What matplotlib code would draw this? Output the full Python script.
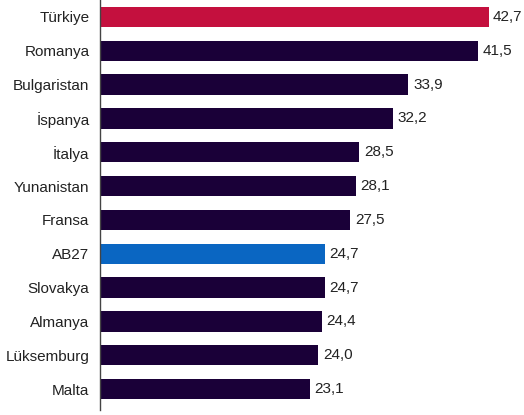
import matplotlib.pyplot as plt

countries = ['Türkiye', 'Romanya', 'Bulgaristan', 'İspanya', 'İtalya', 'Yunanistan',
             'Fransa', 'AB27', 'Slovakya', 'Almanya', 'Lüksemburg', 'Malta']
values = [42.7, 41.5, 33.9, 32.2, 28.5, 28.1, 27.5, 24.7, 24.7, 24.4, 24.0, 23.1]

navy = '#1a0038'
colors = []
for c in countries:
    if c == 'Türkiye':
        colors.append('#c4103e')
    elif c == 'AB27':
        colors.append('#0a66c2')
    else:
        colors.append(navy)

plt.rcParams['font.family'] = ['Liberation Sans', 'DejaVu Sans']

fig = plt.figure(figsize=(5.24, 4.15), dpi=100)
ax = fig.add_axes([100 / 524, 5 / 415, 424 / 524, 410 / 415])

y = list(range(len(countries)))
ax.barh(y, values, height=0.6, color=colors)
for yi, v in zip(y, values):
    ax.text(v + 0.5, yi, f'{v:.1f}'.replace('.', ','), va='center', ha='left',
            fontsize=11, color='#222222')

ax.set_yticks(y)
ax.set_yticklabels(countries, fontsize=11, color='#222222')
ax.tick_params(axis='y', length=0, pad=7.5)
ax.set_xticks([])
ax.set_xlim(0, 46.6)
ax.set_ylim(len(countries) - 0.38, -0.5)
for s in ['top', 'right', 'bottom']:
    ax.spines[s].set_visible(False)
ax.spines['left'].set_color('#444444')
ax.spines['left'].set_linewidth(1)

fig.savefig('out.png', dpi=100)
